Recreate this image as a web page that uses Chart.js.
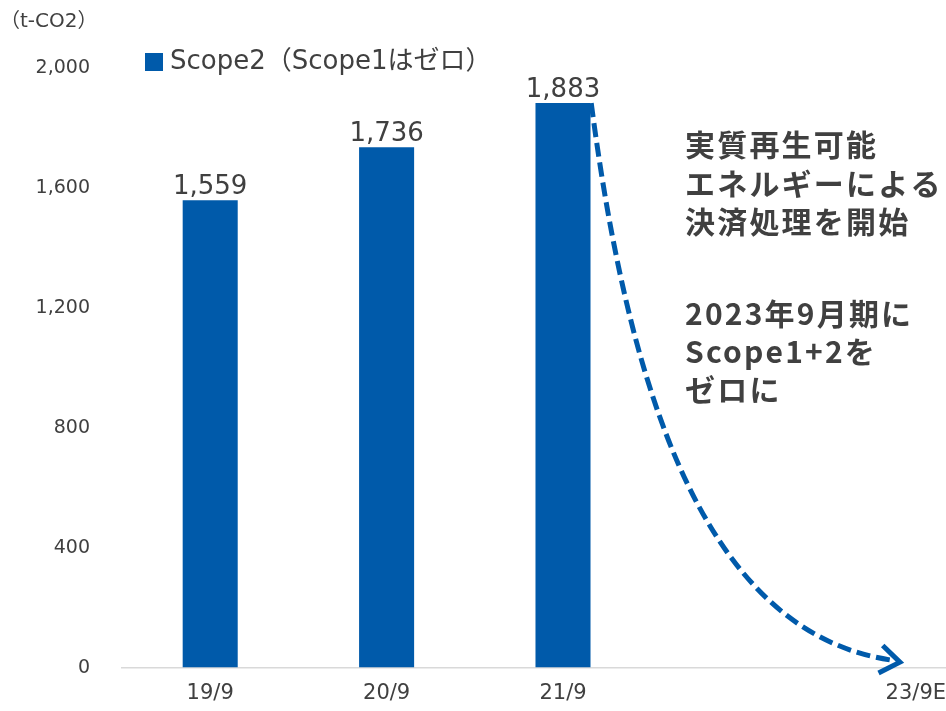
<!DOCTYPE html>
<html>
<head>
<meta charset="utf-8">
<script src="https://cdn.jsdelivr.net/npm/chart.js@4.4.1/dist/chart.umd.min.js"></script>
<style>
  html, body { margin: 0; padding: 0; background: #fff; overflow: hidden; }
  #wrap { width: 1004px; height: 711px; }
</style>
</head>
<body>
<div id="wrap"><canvas id="myChart" width="1004" height="711"></canvas></div>
<script>
// categories (22/9 is left blank on the axis)
var categories = ['19/9', '20/9', '21/9', '', '23/9E'];
var scope2 = [1559, 1736, 1883, null, null];
var yTicks = [0, 400, 800, 1200, 1600, 2000];

var legendLabel = 'Scope2（Scope1はゼロ）';
var unitLabel = '（t-CO2）';
var noteTop = ['実質再生可能', 'エネルギーによる', '決済処理を開始'];
var noteBottom = ['2023年9月期に', 'Scope1+2を', 'ゼロに'];

var BLUE = '#005AAA';
var TEXT = '#404040';
var FONT = "'DejaVu Sans', 'Noto Sans CJK JP', sans-serif";

// value labels, legend, unit and side notes
var textPlugin = {
    id: 'texts',
    afterDatasetsDraw: function(chart) {
        var ctx = chart.ctx;
        var meta = chart.getDatasetMeta(0);
        ctx.save();
        ctx.fillStyle = TEXT;
        ctx.font = '26px ' + FONT;
        ctx.textAlign = 'center';
        ctx.textBaseline = 'alphabetic';
        meta.data.forEach(function(bar, i) {
            if (scope2[i] == null) return;
            ctx.fillText(scope2[i].toLocaleString('en-US'), bar.x, bar.y - 6);
        });

        // legend
        ctx.fillStyle = BLUE;
        ctx.fillRect(145, 53, 18, 18);
        ctx.fillStyle = TEXT;
        ctx.textAlign = 'left';
        ctx.textBaseline = 'middle';
        ctx.font = '26px ' + FONT;
        ctx.fillText(legendLabel, 170, 62);

        // unit
        ctx.font = '20px ' + FONT;
        ctx.fillText(unitLabel, 0, 22);

        // notes
        ctx.font = "bold 30px 'Noto Sans CJK JP', sans-serif";
        if ('letterSpacing' in ctx) ctx.letterSpacing = '2.2px';
        noteTop.forEach(function(t, i) { ctx.fillText(t, 685, 145 + i * 38.5); });
        noteBottom.forEach(function(t, i) { ctx.fillText(t, 685, 314 + i * 38); });
        ctx.restore();
    }
};

// dashed curve from the top of 21/9 down to zero at 23/9E
var arrowPlugin = {
    id: 'arrow',
    afterDatasetsDraw: function(chart) {
        var x = chart.scales.x, y = chart.scales.y, ctx = chart.ctx;
        var p0 = [x.getPixelForValue(2.16), y.getPixelForValue(scope2[2])];
        var p1 = [x.getPixelForValue(2.4), y.getPixelForValue(800)];
        var p2 = [x.getPixelForValue(2.88), y.getPixelForValue(110)];
        var p3 = [x.getPixelForValue(3.91), y.getPixelForValue(18)];
        ctx.save();
        ctx.strokeStyle = BLUE;
        ctx.lineWidth = 5;
        ctx.setLineDash([14, 6]);
        ctx.beginPath();
        ctx.moveTo(p0[0], p0[1]);
        ctx.bezierCurveTo(p1[0], p1[1], p2[0], p2[1], p3[0] - 8, p3[1] - 2);
        ctx.stroke();

        // arrow head
        var ang = Math.atan2(p3[1] - p2[1], p3[0] - p2[0]);
        var len = 24;
        ctx.setLineDash([]);
        ctx.lineWidth = 5;
        ctx.lineJoin = 'miter';
        ctx.beginPath();
        ctx.moveTo(p3[0] - len * Math.cos(ang - 0.62), p3[1] - len * Math.sin(ang - 0.62));
        ctx.lineTo(p3[0], p3[1]);
        ctx.lineTo(p3[0] - len * Math.cos(ang + 0.62), p3[1] - len * Math.sin(ang + 0.62));
        ctx.stroke();
        ctx.restore();
    }
};

var ctx = document.getElementById('myChart').getContext('2d');
var chart = new Chart(ctx, {
    type: 'bar',
    data: {
        labels: categories,
        datasets: [{
            label: 'Scope2',
            data: scope2,
            backgroundColor: BLUE,
            categoryPercentage: 1,
            barPercentage: 0.312
        }]
    },
    options: {
        responsive: false,
        animation: false,
        layout: { padding: { top: 68, left: 0, right: 0, bottom: 0 } },
        plugins: {
            legend: { display: false },
            tooltip: { enabled: false }
        },
        scales: {
            x: {
                grid: { display: false, drawTicks: false },
                border: { display: true, color: '#d9d9d9', width: 1.5 },
                ticks: {
                    color: TEXT,
                    font: { family: FONT, size: 21 },
                    padding: 13,
                    maxRotation: 0,
                    autoSkip: false
                },
                afterFit: function(scale) { scale.height = 39; }
            },
            y: {
                min: 0,
                max: 2000,
                grid: { display: false, drawTicks: false },
                border: { display: false },
                afterBuildTicks: function(scale) {
                    scale.ticks = yTicks.map(function(v) { return { value: v }; });
                },
                ticks: {
                    color: TEXT,
                    font: { family: FONT, size: 19 },
                    padding: 32,
                    callback: function(v) { return v.toLocaleString('en-US'); }
                },
                afterFit: function(scale) { scale.width = 122; }
            }
        }
    },
    plugins: [arrowPlugin, textPlugin]
});
</script>
</body>
</html>
